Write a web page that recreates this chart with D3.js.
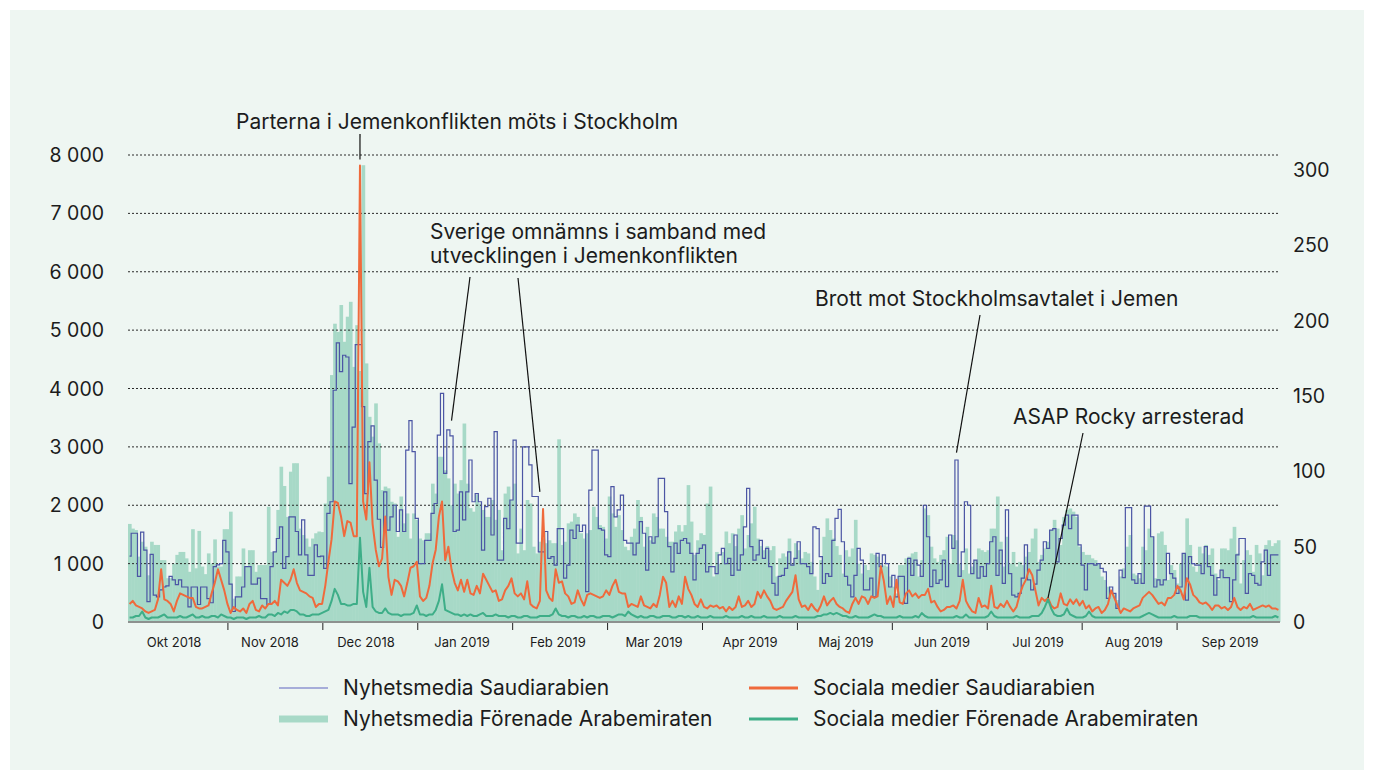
<!DOCTYPE html>
<html>
<head>
<meta charset="utf-8">
<script src="https://cdn.jsdelivr.net/npm/d3@7"></script>
<style>
	body { margin: 0; background: #fff; }
	svg { display: block; font-family: Inter, 'Noto Sans', sans-serif; }
</style>
</head>
<body>
<svg id="chart"></svg>
<script>
const WIDTH = 1374;
const HEIGHT = 780;

// daily values from 1 Oct 2018 to 30 Sep 2019
const startDate = Date.UTC(2018, 9, 1);
const dayCount = 365;

const monthLabels = ['Okt 2018', 'Nov 2018', 'Dec 2018', 'Jan 2019', 'Feb 2019', 'Mar 2019',
	'Apr 2019', 'Maj 2019', 'Jun 2019', 'Jul 2019', 'Aug 2019', 'Sep 2019'];
const leftTicks = [0, 1000, 2000, 3000, 4000, 5000, 6000, 7000, 8000];
const rightTicks = [0, 50, 100, 150, 200, 250, 300];

// Nyhetsmedia Saudiarabien (left axis)
const nyhetsSaudi = [
	1130, 1520, 1520, 780, 1540, 1230, 350, 1160, 460, 430, 550, 600, 620, 780, 720, 640, 720, 600, 600, 260,
	600, 600, 300, 600, 600, 400, 330, 950, 980, 1000, 1400, 1200, 650, 180, 430, 430, 600, 950, 950, 650,
	650, 750, 400, 400, 300, 950, 1200, 1430, 1630, 920, 1120, 1800, 1800, 1550, 1150, 1750, 1150, 800,
	800, 1320, 1120, 1130, 920, 1860, 2060, 3970, 4780, 4290, 4570, 4540, 2370, 3340, 4750, 4750, 3690, 2200, 3090, 3360,
	2430, 1760, 1280, 2230, 1575, 1800, 2000, 1550, 1920, 1550, 2945, 3450, 2920, 1775, 1000, 1000, 1400, 1400, 1860, 2030,
	3200, 3915, 2545, 3290, 3190, 1550, 1575, 2230, 1750, 2230, 2775, 2060, 2200, 2060, 1230, 1975, 2120, 1490, 3260, 1060,
	1060, 1775, 1600, 2090, 3115, 1350, 1350, 3000, 3000, 2690, 2150, 2150, 1200, 1200, 1550, 1090, 1120, 975, 1600, 1600,
	750, 975, 1575, 1430, 1660, 1550, 1660, 520, 2260, 2945, 2945, 1600, 1575, 1150, 1120, 2320, 1800, 1920, 2175, 1400,
	1350, 1350, 1150, 1350, 1720, 1520, 890, 1460, 1350, 1460, 2460, 2460, 1890, 1290, 860, 1350, 1175, 1400, 1430, 1350,
	1175, 720, 1175, 1260, 1320, 860, 950, 950, 830, 1150, 1260, 1000, 1090, 800, 1490, 890, 1150, 1630, 2290, 1290,
	1060, 1150, 1400, 1090, 1260, 950, 660, 460, 780, 800, 920, 1200, 975, 1090, 1375, 1000, 1000, 950, 830, 1630,
	1600, 1120, 660, 830, 780, 1400, 1775, 1930, 1375, 780, 630, 430, 800, 1260, 1060, 550, 550, 750, 430, 1175,
	950, 1150, 1000, 600, 800, 430, 780, 780, 320, 1090, 800, 1060, 975, 780, 2000, 1460, 605, 890, 660, 720,
	1060, 605, 1490, 1260, 2775, 780, 1200, 2060, 2000, 830, 1060, 750, 950, 780, 1000, 1375, 1460, 800, 1230, 660,
	1920, 830, 460, 430, 490, 750, 1320, 720, 550, 650, 890, 1060, 1375, 1260, 1575, 1600, 1030, 1430, 1660, 1830,
	1600, 1830, 1830, 1320, 975, 550, 1000, 1000, 975, 1000, 920, 860, 405, 600, 490, 235, 890, 760, 1960, 1960,
	720, 660, 830, 660, 1985, 1985, 1460, 600, 720, 635, 720, 1175, 830, 750, 490, 600, 1175, 375, 1120, 1000,
	975, 975, 830, 1290, 950, 800, 460, 760, 890, 760, 760, 350, 720, 1150, 1430, 1430, 490, 830, 800, 660,
	630, 1030, 1230, 800, 1150, 1150, 1150
];

// Nyhetsmedia Förenade Arabemiraten (left axis)
const nyhetsEmiraten = [
	1680, 1600, 1575, 1120, 1375, 1290, 800, 1375, 1320, 1320, 1060, 1060, 750, 750, 1000, 1150, 1200, 1200, 1090, 860,
	1590, 920, 1560, 950, 820, 1175, 1000, 1415, 950, 950, 1590, 1590, 1890, 400, 780, 780, 1260, 950, 1230, 1230,
	860, 975, 975, 975, 1975, 1200, 1200, 1920, 2660, 2330, 1800, 2575, 2720, 2720, 1600, 1490, 1430, 1290,
	1430, 1520, 1550, 1540, 2030, 2490, 4230, 5110, 4970, 5430, 4800, 5230, 5485, 4370, 5085, 4300, 7825, 4430, 3515, 3175,
	3745, 3060, 2260, 2320, 2290, 2060, 2030, 1460, 2150, 1690, 1860, 1430, 1860, 1750, 1430, 1400, 1520, 1520, 2370, 2200,
	2830, 2830, 2600, 2460, 2000, 2370, 2200, 2430, 3400, 2370, 1950, 1890, 2175, 2030, 1920, 1800, 1800, 2090, 1750, 1920,
	1230, 2200, 2320, 2090, 2370, 1175, 1600, 1230, 2090, 2030, 1290, 1175, 1375, 1430, 1350, 1400, 1350, 1350, 3130, 1320,
	1375, 1690, 1720, 1860, 1800, 1520, 1430, 1520, 1575, 1975, 1800, 1660, 1630, 1430, 2150, 1860, 1630, 1830, 1575, 1290,
	1230, 1460, 1600, 2090, 1800, 1290, 1630, 1400, 1860, 1800, 1600, 1600, 1460, 1375, 1375, 1550, 1660, 1550, 1660, 2345,
	1720, 1150, 1400, 1520, 1490, 2030, 2320, 780, 1200, 1000, 1200, 1550, 1350, 1520, 1300, 1600, 1830, 1260, 1490, 1690,
	1975, 1430, 1300, 1230, 1300, 1230, 1300, 780, 1090, 1175, 1120, 1430, 1000, 1350, 1230, 1090, 1200, 1175, 1030, 780,
	550, 1060, 1460, 1775, 1575, 1430, 1300, 1150, 830, 1230, 1120, 1260, 1750, 1000, 830, 975, 890, 1175, 1150, 1120,
	1000, 970, 950, 780, 605, 490, 975, 975, 1090, 1120, 1175, 1200, 780, 1060, 1945, 1830, 1290, 1090, 1030, 1150,
	1230, 1460, 1000, 1490, 1400, 1000, 890, 1260, 830, 950, 1060, 1260, 1230, 1200, 1230, 1600, 1600, 2150, 1375, 950,
	1460, 1000, 1200, 950, 1030, 975, 1120, 1200, 1430, 1600, 1030, 1150, 1260, 1375, 1575, 1750, 1600, 1320, 1800, 1920,
	1945, 1890, 1800, 1290, 1200, 1150, 1150, 1090, 1060, 1000, 780, 720, 605, 520, 490, 375, 780, 920, 1290, 1490,
	830, 800, 750, 1290, 1230, 1600, 1460, 750, 1520, 1550, 1320, 720, 975, 890, 660, 1000, 1175, 1775, 1320, 950,
	860, 1290, 1175, 1320, 1150, 1260, 830, 720, 1260, 1260, 1230, 1430, 1630, 1175, 660, 1060, 1230, 1150, 860, 1320,
	1175, 800, 1320, 1400, 1300, 1350, 1400
];

// Sociala medier Saudiarabien (right axis)
const socialaSaudi = [
	12, 14, 11, 10, 9, 7, 6, 7, 8, 15, 35, 15, 14, 12, 7, 14, 19, 18, 17, 16,
	16, 10, 9, 9, 10, 11, 19, 26, 35, 28, 21, 12, 6, 10, 8, 7, 9, 6, 12, 14,
	8, 7, 11, 9, 12, 12, 14, 11, 28, 26, 24, 28, 35, 26, 21, 20, 19, 17,
	16, 10, 12, 12, 24, 40, 55, 80, 79, 70, 57, 67, 66, 57, 57, 303, 80, 68, 106, 65,
	48, 37, 42, 70, 30, 18, 28, 27, 24, 17, 26, 36, 37, 40, 17, 14, 16, 24, 39, 48,
	70, 80, 41, 50, 35, 26, 21, 28, 20, 28, 19, 18, 24, 19, 32, 28, 24, 20, 21, 14,
	15, 21, 24, 29, 19, 17, 19, 15, 27, 12, 10, 9, 14, 75, 21, 16, 14, 35, 26, 27,
	19, 17, 12, 13, 21, 15, 11, 18, 19, 18, 17, 16, 17, 21, 18, 24, 28, 20, 19, 19,
	10, 12, 11, 10, 17, 11, 10, 9, 12, 10, 18, 30, 26, 10, 14, 10, 17, 12, 30, 22,
	18, 12, 10, 15, 10, 9, 11, 10, 11, 9, 10, 7, 10, 8, 10, 17, 10, 11, 14, 10,
	12, 20, 16, 21, 17, 14, 9, 8, 9, 10, 14, 17, 20, 31, 15, 10, 11, 8, 12, 9,
	7, 11, 17, 11, 14, 16, 12, 10, 9, 7, 6, 12, 16, 12, 17, 16, 12, 17, 16, 17,
	37, 27, 12, 17, 10, 28, 13, 12, 19, 21, 17, 19, 16, 18, 18, 22, 13, 14, 10, 7,
	8, 10, 10, 11, 9, 14, 28, 14, 10, 7, 6, 16, 10, 11, 9, 24, 10, 9, 12, 10,
	14, 10, 7, 10, 18, 24, 28, 35, 31, 21, 11, 16, 14, 16, 11, 9, 10, 19, 12, 11,
	15, 12, 15, 11, 14, 9, 11, 7, 9, 10, 6, 8, 12, 21, 16, 11, 6, 9, 8, 7,
	9, 10, 11, 16, 18, 20, 18, 15, 12, 13, 11, 16, 16, 18, 24, 21, 15, 29, 25, 18,
	16, 13, 12, 13, 11, 8, 11, 11, 9, 10, 8, 10, 16, 10, 8, 10, 9, 12, 8, 9,
	10, 11, 10, 11, 9, 9, 8
];

// Sociala medier Förenade Arabemiraten (right axis)
const socialaEmiraten = [
	3, 3, 4, 4, 7, 3, 2, 3, 3, 3, 4, 5, 3, 3, 3, 3, 4, 3, 3, 4,
	5, 3, 3, 4, 3, 3, 4, 4, 3, 5, 4, 3, 3, 2, 3, 3, 3, 2, 3, 3,
	3, 4, 3, 3, 5, 5, 4, 6, 5, 7, 6, 8, 8, 7, 5, 5, 4, 4,
	5, 5, 5, 6, 7, 8, 14, 22, 18, 12, 12, 11, 11, 12, 12, 56, 20, 10, 36, 10,
	7, 6, 6, 9, 6, 5, 5, 5, 4, 5, 5, 5, 6, 11, 5, 5, 4, 5, 5, 8,
	14, 25, 8, 7, 6, 5, 5, 4, 5, 4, 5, 4, 4, 5, 6, 4, 4, 4, 5, 4,
	4, 4, 3, 4, 4, 3, 3, 4, 4, 3, 3, 3, 4, 4, 4, 4, 5, 9, 5, 4,
	4, 3, 4, 4, 3, 3, 4, 3, 4, 4, 3, 3, 4, 4, 4, 3, 4, 5, 5, 4,
	7, 5, 4, 3, 4, 3, 3, 4, 4, 3, 3, 4, 4, 4, 3, 3, 4, 4, 3, 4,
	3, 3, 4, 3, 3, 3, 4, 3, 3, 3, 3, 4, 3, 3, 3, 3, 4, 3, 3, 4,
	3, 3, 3, 4, 3, 3, 3, 3, 4, 3, 3, 3, 3, 4, 3, 3, 3, 3, 3, 3,
	4, 4, 5, 5, 6, 5, 6, 5, 4, 4, 3, 3, 4, 3, 3, 3, 3, 4, 5, 4,
	4, 3, 3, 3, 3, 3, 4, 3, 3, 3, 3, 4, 3, 6, 4, 3, 3, 3, 3, 3,
	3, 3, 3, 3, 4, 3, 3, 5, 3, 3, 3, 3, 3, 3, 4, 7, 4, 3, 3, 3,
	3, 3, 3, 4, 3, 3, 3, 3, 4, 4, 4, 6, 10, 15, 9, 5, 4, 4, 5, 9,
	5, 4, 3, 3, 3, 4, 7, 4, 3, 3, 3, 3, 3, 3, 3, 3, 3, 3, 3, 3,
	3, 3, 3, 4, 5, 6, 5, 4, 3, 3, 3, 3, 3, 4, 3, 3, 3, 3, 4, 4,
	4, 3, 3, 3, 3, 3, 3, 3, 3, 3, 3, 3, 3, 3, 3, 3, 3, 3, 4, 3,
	3, 3, 3, 3, 3, 4, 3
];

const legendLabels = ['Nyhetsmedia Saudiarabien', 'Sociala medier Saudiarabien',
	'Nyhetsmedia Förenade Arabemiraten', 'Sociala medier Förenade Arabemiraten'];

// notes, tied to a day and a value on one of the axes
const notes = [
	{lines: ['Parterna i Jemenkonflikten möts i Stockholm'], day: 73, value: 303, axis: 'right'},
	{lines: ['Sverige omnämns i samband med', 'utvecklingen i Jemenkonflikten'], day: 102, value: 3450, axis: 'left'},
	{lines: [], day: 130, value: 2230, axis: 'left'},
	{lines: ['Brott mot Stockholmsavtalet i Jemen'], day: 262, value: 2900, axis: 'left'},
	{lines: ['ASAP Rocky arresterad'], day: 291, value: 16, axis: 'right'}
];

const COLORS = {
	panel: '#eef6f2',
	blue: '#4b55a4',
	blueLegend: '#8e95d0',
	barGreen: '#a7d9c7',
	orange: '#ef6a3c',
	lineGreen: '#3eae88',
	text: '#1c1c1c'
};

const svg = d3.select('#chart')
	.attr('width', WIDTH)
	.attr('height', HEIGHT);

svg.append('rect')
	.attr('x', 10)
	.attr('y', 10)
	.attr('width', WIDTH - 20)
	.attr('height', HEIGHT - 20)
	.attr('fill', COLORS.panel);

const plot = {left: 128, right: 1280, top: 155, bottom: 622};
const dayDate = i => new Date(startDate + i * 864e5);

const x = d3.scaleUtc()
	.domain([dayDate(0), dayDate(dayCount)])
	.range([plot.left, plot.right]);
const xMid = i => (x(dayDate(i)) + x(dayDate(i + 1))) / 2;

const yLeft = d3.scaleLinear().domain([0, 8000]).range([plot.bottom, plot.top]);
const yRight = d3.scaleLinear().domain([0, 310]).range([plot.bottom, plot.top]);

// green bars
svg.append('g')
	.selectAll('rect')
	.data(nyhetsEmiraten)
	.join('rect')
	.attr('x', (d, i) => x(dayDate(i)))
	.attr('width', (d, i) => x(dayDate(i + 1)) - x(dayDate(i)) + 0.5)
	.attr('y', d => yLeft(d))
	.attr('height', d => plot.bottom - yLeft(d))
	.attr('fill', COLORS.barGreen);

// dotted grid
svg.append('g')
	.selectAll('line')
	.data(leftTicks.filter(d => d > 0))
	.join('line')
	.attr('x1', plot.left)
	.attr('x2', plot.right)
	.attr('y1', d => yLeft(d))
	.attr('y2', d => yLeft(d))
	.attr('stroke', '#2a2a2a')
	.attr('stroke-width', 1)
	.attr('stroke-dasharray', '2,2');

const stepLine = d3.line()
	.x((d, i) => xMid(i))
	.y(d => yLeft(d))
	.curve(d3.curveStep);

svg.append('path')
	.datum(nyhetsSaudi)
	.attr('d', stepLine)
	.attr('fill', 'none')
	.attr('stroke', COLORS.blue)
	.attr('stroke-width', 1.2);

const rightLine = d3.line()
	.x((d, i) => xMid(i))
	.y(d => yRight(d));

svg.append('path')
	.datum(socialaSaudi)
	.attr('d', rightLine)
	.attr('fill', 'none')
	.attr('stroke', COLORS.orange)
	.attr('stroke-width', 2)
	.attr('stroke-linejoin', 'round');

svg.append('path')
	.datum(socialaEmiraten)
	.attr('d', rightLine)
	.attr('fill', 'none')
	.attr('stroke', COLORS.lineGreen)
	.attr('stroke-width', 2)
	.attr('stroke-linejoin', 'round');

// x axis: base line, month ticks and labels
svg.append('line')
	.attr('x1', plot.left)
	.attr('x2', plot.right)
	.attr('y1', plot.bottom)
	.attr('y2', plot.bottom)
	.attr('stroke', '#8d918f')
	.attr('stroke-width', 2);

const monthEdge = d3.scaleLinear().domain([0, monthLabels.length]).range([133, 1272]);
svg.append('g')
	.selectAll('line')
	.data(d3.range(1, monthLabels.length))
	.join('line')
	.attr('x1', d => monthEdge(d))
	.attr('x2', d => monthEdge(d))
	.attr('y1', plot.bottom + 1)
	.attr('y2', plot.bottom + 8)
	.attr('stroke', '#222')
	.attr('stroke-width', 1);

const monthBand = d3.scaleBand().domain(monthLabels).range([plot.left, plot.right]);
svg.append('g')
	.selectAll('text')
	.data(monthLabels)
	.join('text')
	.attr('x', d => monthBand(d) + monthBand.bandwidth() / 2 - 2)
	.attr('y', 647)
	.attr('text-anchor', 'middle')
	.attr('font-size', 13)
	.attr('fill', COLORS.text)
	.text(d => d);

// y axes
const formatThousands = d3.formatLocale({decimal: ',', thousands: ' ', grouping: [3], currency: ['', '']}).format(',');

svg.append('g')
	.selectAll('text')
	.data(leftTicks)
	.join('text')
	.attr('x', 104)
	.attr('y', d => yLeft(d) + 7)
	.attr('text-anchor', 'end')
	.attr('font-size', 19.5)
	.attr('fill', COLORS.text)
	.text(d => formatThousands(d));

svg.append('g')
	.selectAll('text')
	.data(rightTicks)
	.join('text')
	.attr('x', 1293)
	.attr('y', d => yRight(d) + 7)
	.attr('font-size', 19.5)
	.attr('fill', COLORS.text)
	.text(d => d);

// notes with pointer lines
const notePlacement = [
	{tx: 236, ty: 129, from: [360, 134], gap: 6},
	{tx: 430, ty: 239, from: [470, 277], gap: 0},
	{tx: 0, ty: 0, from: [518, 278], gap: 0},
	{tx: 815, ty: 306, from: [980, 315], gap: 0},
	{tx: 1013, ty: 424, from: [1083, 433], gap: 0}
];

const noteGroup = svg.append('g');
notes.forEach((note, k) => {
	const place = notePlacement[k];
	const scale = note.axis === 'left' ? yLeft : yRight;
	noteGroup.append('line')
		.attr('x1', place.from[0])
		.attr('y1', place.from[1])
		.attr('x2', xMid(note.day))
		.attr('y2', scale(note.value) - place.gap)
		.attr('stroke', '#111')
		.attr('stroke-width', 1.2);
	note.lines.forEach((line, j) => {
		noteGroup.append('text')
			.attr('x', place.tx)
			.attr('y', place.ty + j * 24)
			.attr('font-size', 21)
			.attr('fill', COLORS.text)
			.text(line);
	});
});

// legend
const legend = svg.append('g');
const legendPos = [[279, 688], [749, 688], [279, 719], [749, 719]];
const legendSwatch = [
	{color: COLORS.blueLegend, width: 1.5},
	{color: COLORS.orange, width: 3},
	{color: COLORS.barGreen, width: 7},
	{color: COLORS.lineGreen, width: 3}
];
legendLabels.forEach((label, k) => {
	const [lx, ly] = legendPos[k];
	legend.append('line')
		.attr('x1', lx)
		.attr('x2', lx + 49)
		.attr('y1', ly)
		.attr('y2', ly)
		.attr('stroke', legendSwatch[k].color)
		.attr('stroke-width', legendSwatch[k].width);
	legend.append('text')
		.attr('x', lx + 64)
		.attr('y', ly + 7)
		.attr('font-size', 21)
		.attr('fill', COLORS.text)
		.text(label);
});
</script>
</body>
</html>
